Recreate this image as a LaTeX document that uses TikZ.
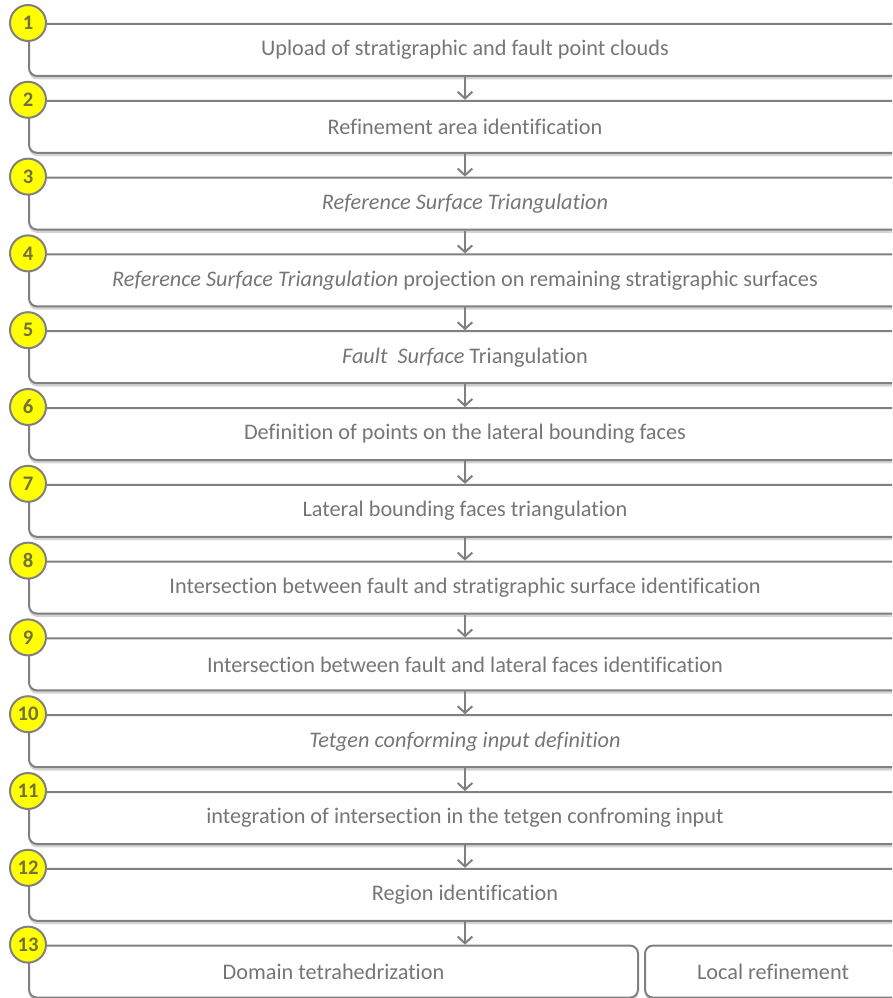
\documentclass[tikz,border=0pt]{standalone}
\usepackage{fontspec}
\setmainfont{Carlito}[Ligatures=NoCommon]
\usepackage{tikz}
\usetikzlibrary{arrows.meta,positioning,shadows}
\definecolor{stgris}{RGB}{128,128,128}
\definecolor{sttexte}{RGB}{118,118,118}
\definecolor{stjaune}{RGB}{255,255,0}
\definecolor{stnum}{RGB}{112,112,64}

\begin{document}
\begin{tikzpicture}[x=0.75pt, y=-0.75pt,
  stepbox/.style={rectangle, rounded corners=6pt, draw=stgris, line width=1.5pt, fill=white,
    minimum width=654pt, minimum height=39pt, text=sttexte, font=\fontsize{16.7}{19}\selectfont,
    drop shadow={shadow xshift=0pt, shadow yshift=-2.5pt, opacity=.35, fill=stgris}},
  stepnum/.style={circle, draw=stgris, line width=1.5pt, fill=stjaune, minimum size=27pt,
    inner sep=0pt, text=stnum, font=\fontsize{15.5}{17}\selectfont\bfseries},
  flow/.style={stgris, line width=1.5pt, -{Straight Barb[length=5pt, width=11pt, line width=1.5pt]}}
]
  \clip (0,0) rectangle (892,998);

  % Steps
  \node[stepbox] (s1) at (465,50) {Upload of stratigraphic and fault point clouds};
  \node[stepbox] (s2) at (465,126.8) {Refinement area identification};
  \node[stepbox] (s3) at (465,203.6) {\textit{Reference Surface Triangulation}};
  \node[stepbox] (s4) at (465,280.4)
    {\textit{Reference Surface Triangulation} projection on remaining stratigraphic surfaces};
  \node[stepbox] (s5) at (465,357.2) {\textit{Fault\ \ Surface} Triangulation};
  \node[stepbox] (s6) at (465,434) {Definition of points on the lateral bounding faces};
  \node[stepbox] (s7) at (465,510.8) {Lateral bounding faces triangulation};
  \node[stepbox] (s8) at (465,587.6) {Intersection between fault and stratigraphic surface identification};
  \node[stepbox] (s9) at (465,664.4) {Intersection between fault and lateral faces identification};
  \node[stepbox] (s10) at (465,741.2) {\textit{Tetgen conforming input definition}};
  \node[stepbox] (s11) at (465,818) {integration of intersection in the tetgen confroming input};
  \node[stepbox] (s12) at (465,894.8) {Region identification};

  % Last step, split in two
  \node[stepbox, minimum width=456.75pt] (s13a) at (333.5,971.6) {Domain tetrahedrization};
  \node[stepbox, minimum width=192pt] (s13b) at (773,971.6) {Local refinement};

  % Numbers
  \node[stepnum] (n1) at (s1.north west) {1};
  \node[stepnum] (n2) at (s2.north west) {2};
  \node[stepnum] (n3) at (s3.north west) {3};
  \node[stepnum] (n4) at (s4.north west) {4};
  \node[stepnum] (n5) at (s5.north west) {5};
  \node[stepnum] (n6) at (s6.north west) {6};
  \node[stepnum] (n7) at (s7.north west) {7};
  \node[stepnum] (n8) at (s8.north west) {8};
  \node[stepnum] (n9) at (s9.north west) {9};
  \node[stepnum] (n10) at (s10.north west) {10};
  \node[stepnum] (n11) at (s11.north west) {11};
  \node[stepnum] (n12) at (s12.north west) {12};
  \node[stepnum] (n13) at (s13a.north west) {13};

  % Flow
  \draw[flow] (s1.south) -- (s2.north);
  \draw[flow] (s2.south) -- (s3.north);
  \draw[flow] (s3.south) -- (s4.north);
  \draw[flow] (s4.south) -- (s5.north);
  \draw[flow] (s5.south) -- (s6.north);
  \draw[flow] (s6.south) -- (s7.north);
  \draw[flow] (s7.south) -- (s8.north);
  \draw[flow] (s8.south) -- (s9.north);
  \draw[flow] (s9.south) -- (s10.north);
  \draw[flow] (s10.south) -- (s11.north);
  \draw[flow] (s11.south) -- (s12.north);
  \draw[flow] (s12.south) -- (s12.south |- s13a.north);
\end{tikzpicture}
\end{document}
